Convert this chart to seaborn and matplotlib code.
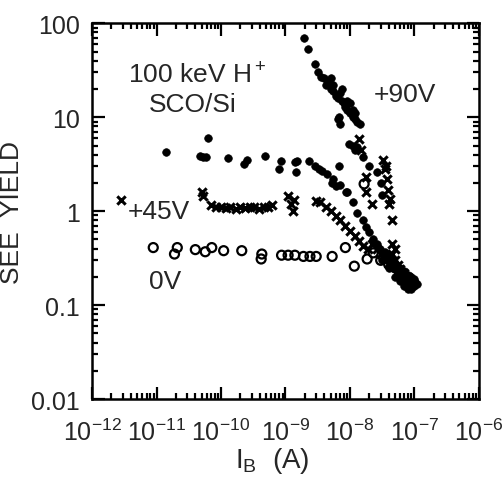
import matplotlib
matplotlib.use('Agg')
import matplotlib.pyplot as plt
import matplotlib.ticker as mticker
import seaborn as sns
import pandas as pd

# +90V (filled circles)
x_90 = [1.4e-11, 4.8e-11, 5.3e-11, 5.8e-11, 6.4e-11, 1.3e-10, 2.3e-10, 2.5e-10, 4.9e-10,
        7.9e-10, 8.5e-10, 1.4e-9, 1.5e-9, 1.45e-9, 2.3e-9, 2.9e-9, 3.3e-9, 3.7e-9, 4.4e-9,
        5.3e-9, 6.0e-9, 6.8e-9, 8.7e-9,
        1.95e-9, 2.2e-9, 2.9e-9, 3.2e-9, 3.6e-9, 4.0e-9, 4.2e-9, 4.6e-9, 5.0e-9, 5.5e-9,
        6.0e-9, 6.5e-9, 7.0e-9, 7.5e-9, 8.0e-9, 8.5e-9, 9.0e-9, 1.0e-8, 1.1e-8, 1.2e-8,
        1.3e-8, 1.45e-8, 6.5e-9, 7.0e-9, 6.8e-9, 5.5e-9, 5.0e-9, 7.5e-9, 9.0e-9, 1.0e-8,
        1.1e-8, 1.2e-8,
        9.7e-9, 1.1e-8, 1.3e-8, 1.6e-8, 2.0e-8, 2.6e-8, 1.2e-8, 3.0e-8, 3.2e-8,
        5.5e-9, 7.0e-9, 9.0e-9, 1.1e-8, 1.3e-8, 1.58e-8, 1.8e-8, 2.0e-8, 2.3e-8,
        2.6e-8, 2.9e-8, 3.2e-8, 3.5e-8, 3.8e-8, 4.2e-8, 4.6e-8, 5.0e-8, 5.5e-8, 6.0e-8,
        6.5e-8, 7.0e-8, 7.5e-8, 8.0e-8, 8.5e-8, 9.0e-8, 9.5e-8, 1.0e-7, 1.1e-7, 1.0e-7,
        9.0e-8, 8.0e-8, 7.0e-8, 6.0e-8, 5.0e-8, 4.5e-8, 4.0e-8, 3.5e-8, 3.2e-8, 4.0e-8,
        5.0e-8, 6.0e-8, 7.0e-8, 8.0e-8, 9.0e-8]
y_90 = [4.3, 3.9, 3.8, 3.8, 6.0, 3.7, 3.2, 3.5, 3.9,
        2.8, 3.4, 3.3, 3.4, 2.6, 3.4, 3.0, 2.8, 2.7, 2.5,
        2.0, 1.85, 3.0, 1.6,
        70, 53, 37, 30, 27, 26, 22, 24, 20, 19,
        17, 16, 18, 15, 14, 13, 12, 11, 10, 9.5,
        9.0, 8.5, 9.5, 8.5, 10, 22, 26, 20, 15, 14,
        12, 11,
        5.2, 5.0, 4.8, 3.8, 3.0, 2.6, 4.5, 2.0, 1.5,
        2.2, 1.9, 1.6, 1.25, 0.95, 0.8, 0.68, 0.6, 0.5,
        0.45, 0.40, 0.36, 0.33, 0.30, 0.28, 0.26, 0.24, 0.22, 0.21,
        0.20, 0.19, 0.18, 0.175, 0.17, 0.165, 0.16, 0.16, 0.17, 0.19,
        0.20, 0.21, 0.23, 0.25, 0.28, 0.31, 0.34, 0.37, 0.30, 0.25,
        0.20, 0.18, 0.16, 0.15, 0.15]

# +45V (crosses)
x_45 = [2.8e-12, 5.0e-11, 5.2e-11, 7.0e-11, 8.5e-11, 1.0e-10, 1.2e-10, 1.4e-10, 1.7e-10,
        2.0e-10, 2.4e-10, 2.8e-10, 3.3e-10, 3.9e-10, 4.6e-10, 5.4e-10, 6.2e-10,
        1.1e-9, 1.2e-9, 1.35e-9, 1.3e-9, 3.0e-9,
        3.4e-9, 4.2e-9, 5.0e-9, 6.0e-9, 7.0e-9, 8.5e-9, 1.0e-8, 1.2e-8, 1.4e-8, 1.6e-8,
        1.9e-8,
        2.2e-8, 4.5e-8, 1.8e-8, 1.8e-8, 1.4e-8, 1.5e-8, 3.3e-8, 3.5e-8, 3.7e-8, 3.9e-8,
        4.2e-8, 3.6e-8, 4.0e-8,
        2.2e-8, 2.6e-8, 3.0e-8, 3.4e-8, 4.0e-8, 4.5e-8, 5.0e-8, 5.5e-8, 6.0e-8, 7.0e-8,
        8.0e-8, 9.0e-8, 5.0e-8, 4.5e-8]
y_45 = [1.3, 1.6, 1.45, 1.15, 1.1, 1.12, 1.08, 1.1, 1.05,
        1.1, 1.08, 1.12, 1.1, 1.05, 1.1, 1.12, 1.15,
        1.45, 1.2, 1.3, 1.0, 1.28,
        1.25, 1.1, 1.0, 0.88, 0.8, 0.7, 0.62, 0.55, 0.48, 0.43,
        0.40,
        1.2, 0.81, 2.3, 1.6, 5.8, 4.5, 3.5, 2.8, 2.2, 1.7,
        1.35, 3.0, 1.2,
        0.45, 0.40, 0.35, 0.32, 0.28, 0.35, 0.30, 0.27, 0.24, 0.22,
        0.20, 0.18, 0.40, 0.45]

# 0V (open circles)
x_0 = [8.9e-12, 1.9e-11, 2.1e-11, 4.0e-11, 5.7e-11, 7.2e-11, 1.1e-10, 2.1e-10, 4.3e-10,
       4.2e-10, 8.7e-10, 1.1e-9, 1.4e-9, 1.9e-9, 2.4e-9, 3.0e-9, 5.3e-9, 8.5e-9,
       1.17e-8, 1.85e-8, 1.66e-8,
       2.3e-8, 3.0e-8, 4.0e-8, 5.0e-8, 6.0e-8, 7.0e-8, 8.0e-8, 9.0e-8, 1.0e-7]
y_0 = [0.41, 0.35, 0.41, 0.39, 0.37, 0.41, 0.38, 0.38, 0.35,
       0.31, 0.34, 0.34, 0.34, 0.33, 0.33, 0.33, 0.33, 0.41,
       0.26, 0.31, 1.95,
       0.36, 0.30, 0.27, 0.25, 0.22, 0.20, 0.18, 0.17, 0.17]

x_ticks = [1e-12, 1e-11, 1e-10, 1e-9, 1e-8, 1e-7, 1e-6]
y_ticks = [0.01, 0.1, 1, 10, 100]
y_tick_labels = ['0.01', '0.1', '1', '10', '100']

df_90 = pd.DataFrame({'current': x_90, 'yield': y_90})
df_45 = pd.DataFrame({'current': x_45, 'yield': y_45})
df_0 = pd.DataFrame({'current': x_0, 'yield': y_0})

sns.set_style('ticks')
plt.rcParams['font.family'] = ['Liberation Sans', 'DejaVu Sans']
plt.rcParams['mathtext.fontset'] = 'custom'
plt.rcParams['mathtext.rm'] = 'Liberation Sans'
plt.rcParams['mathtext.it'] = 'Liberation Sans'

fig = plt.figure(figsize=(5.03, 4.85), dpi=100)
ax = fig.add_axes([0.183, 0.175, 0.769, 0.775])

sns.scatterplot(data=df_0, x='current', y='yield', ax=ax, marker='o', s=42,
                facecolor='none', edgecolor='black', linewidth=1.6, zorder=3)
sns.scatterplot(data=df_45, x='current', y='yield', ax=ax, marker='x', s=36,
                color='black', linewidth=2.2, zorder=3)
sns.scatterplot(data=df_90, x='current', y='yield', ax=ax, marker='o', s=30,
                color='black', edgecolor='black', linewidth=0.5, zorder=4)

ax.set_xscale('log')
ax.set_yscale('log')
ax.set_xlim(1e-12, 1e-6)
ax.set_ylim(0.01, 100)
ax.set_xticks(x_ticks)
ax.set_yticks(y_ticks)
ax.set_yticklabels(y_tick_labels)
ax.xaxis.set_minor_locator(mticker.LogLocator(base=10, subs=range(2, 10), numticks=20))
ax.yaxis.set_minor_locator(mticker.LogLocator(base=10, subs=range(2, 10), numticks=20))
ax.xaxis.set_minor_formatter(mticker.NullFormatter())
ax.yaxis.set_minor_formatter(mticker.NullFormatter())

ax.tick_params(which='both', direction='in', top=True, right=True, width=1.6, color='black')
ax.tick_params(which='major', length=9, labelsize=18)
ax.tick_params(axis='y', which='major', pad=9)
ax.tick_params(axis='x', which='major', pad=14)
ax.tick_params(which='minor', length=4.5)
for sp in ax.spines.values():
    sp.set_linewidth(1.8)
    sp.set_color('black')

ax.set_xlabel(r'I$_\mathregular{B}$  (A)', fontsize=20)
ax.xaxis.set_label_coords(0.465, -0.122)
ax.set_ylabel('SEE  YIELD', fontsize=19)
ax.yaxis.set_label_coords(-0.175, 0.5)

ax.text(4.2e-11, 28, '100 keV H$^+$', fontsize=19, ha='center', va='center')
ax.text(3.7e-11, 13.7, 'SCO/Si', fontsize=19, ha='center', va='center')
ax.text(7.1e-8, 17.6, '+90V', fontsize=19, ha='center', va='center')
ax.text(1.1e-11, 1.0, '+45V', fontsize=19, ha='center', va='center')
ax.text(1.35e-11, 0.18, '0V', fontsize=19, ha='center', va='center')

fig.savefig('out.png', dpi=100)
